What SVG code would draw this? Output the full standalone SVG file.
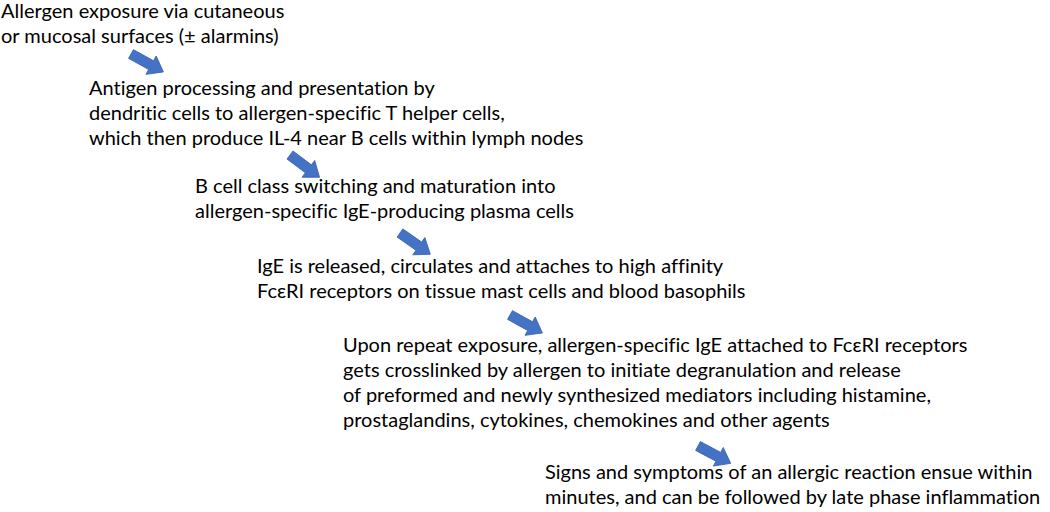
<svg xmlns="http://www.w3.org/2000/svg" width="1050" height="512" viewBox="0 0 1050 512">
<defs>
<style>
text{font-family:Lato,"Open Sans","Liberation Sans",sans-serif;font-size:20px;fill:#000;font-variant-ligatures:none;}
.arr{fill:#4472C4;stroke:#3A62B0;stroke-width:0.8;}
</style>
<path id="arrow" d="M0,-5 L23,-5 L23,-10.5 L37,0 L23,10.5 L23,5 L0,5 Z"/>
</defs>
<rect width="1050" height="512" fill="#fff"/>
<g id="step1">
<text x="1" y="18">Allergen exposure via cutaneous</text>
<text x="1" y="43">or mucosal surfaces (± alarmins)</text>
</g>
<g id="step2">
<text x="89" y="95">Antigen processing and presentation by</text>
<text x="89" y="120">dendritic cells to allergen-specific T helper cells,</text>
<text x="89" y="145">which then produce IL-4 near B cells within lymph nodes</text>
</g>
<g id="step3">
<text x="195" y="193">B cell class switching and maturation into</text>
<text x="195" y="218">allergen-specific IgE-producing plasma cells</text>
</g>
<g id="step4">
<text x="257" y="273">IgE is released, circulates and attaches to high affinity</text>
<text x="257" y="298">FcεRI receptors on tissue mast cells and blood basophils</text>
</g>
<g id="step5">
<text x="343" y="352">Upon repeat exposure, allergen-specific IgE attached to FcεRI receptors</text>
<text x="343" y="377">gets crosslinked by allergen to initiate degranulation and release</text>
<text x="343" y="402">of preformed and newly synthesized mediators including histamine,</text>
<text x="343" y="427">prostaglandins, cytokines, chemokines and other agents</text>
</g>
<g id="step6">
<text x="545" y="479">Signs and symptoms of an allergic reaction ensue within</text>
<text x="545" y="504">minutes, and can be followed by late phase inflammation</text>
</g>
<g id="connectors">
<use href="#arrow" class="arr" transform="translate(131,54) rotate(29)"/>
<use href="#arrow" class="arr" transform="translate(290,155) rotate(37)"/>
<use href="#arrow" class="arr" transform="translate(400,233) rotate(35)"/>
<use href="#arrow" class="arr" transform="translate(510,315) rotate(29)"/>
<use href="#arrow" class="arr" transform="translate(698,446) rotate(28)"/>
</g>
</svg>
